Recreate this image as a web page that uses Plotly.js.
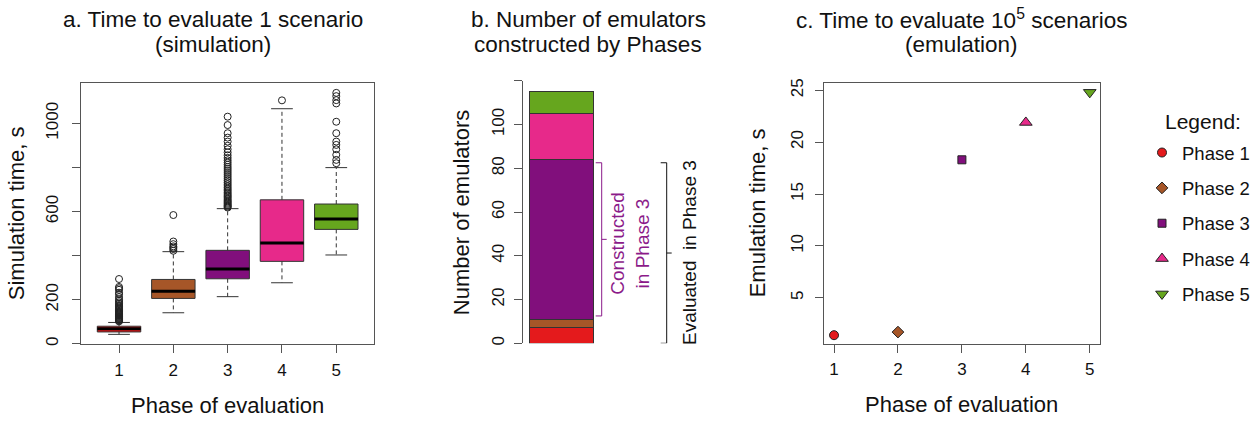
<!DOCTYPE html>
<html>
<head>
<meta charset="utf-8">
<script src="https://cdn.plot.ly/plotly-3.0.1.min.js"></script>
<style>html,body{margin:0;padding:0;background:#fff;}#chart{width:1258px;height:421px;}</style>
</head>
<body>
<div id="chart"></div>
<script>
// ---------- data ----------
const phases = [1, 2, 3, 4, 5];
const phaseNames = ['Phase 1', 'Phase 2', 'Phase 3', 'Phase 4', 'Phase 5'];
const phaseColors = ['#E41A1C', '#A65628', '#810F7C', '#E7298A', '#66A61E'];

// panel a: simulation time boxplot statistics (s)
const simLowerWhisker = [43, 141, 214, 277, 403];
const simQ1 = [54, 206, 295, 374, 519];
const simMedian = [68, 238, 339, 457, 566];
const simQ3 = [80, 292, 424, 653, 634];
const simUpperWhisker = [97, 418, 613, 1066, 799];
const simOutliers1 = [102, 105, 108, 111, 114, 117, 120, 123, 126, 130, 134, 138, 142, 146, 150, 155, 160, 165, 170, 176, 182, 188, 195, 202, 212, 225, 232, 245, 252, 258, 294];
const simOutliers2 = [422, 430, 436, 442, 452, 464, 584];
const simOutliers3 = [618, 622, 626, 630, 635, 640, 645, 650, 656, 662, 668, 674, 680, 687, 694, 701, 708, 716, 724, 732, 740, 748, 757, 766, 775, 784, 793, 802, 812, 822, 832, 843, 855, 868, 882, 898, 917, 935, 955, 992, 1030];
const simOutliers4 = [1104];
const simOutliers5 = [819, 834, 857, 882, 902, 917, 955, 1007, 1090, 1105, 1123, 1138];
const simOutliers = [simOutliers1, simOutliers2, simOutliers3, simOutliers4, simOutliers5];
const simTicksLabeled = [0, 200, 600, 1000];
const simTicksUnlabeled = [400, 800];

// panel b: number of emulators constructed by phase
const emulatorCounts = [7, 4, 73, 21, 10];
const countTicksLabeled = [0, 20, 40, 60, 80, 100];
const countTicksUnlabeled = [120];

// panel c: emulation time for 1e5 scenarios (s)
const emuTime = [1.4, 1.7, 18.3, 21.9, 24.8];
const emuSymbols = ['circle', 'diamond', 'square', 'triangle-up', 'triangle-down'];
const emuSizes = [9, 9, 8, 11, 11];
const emuTicks = [5, 10, 15, 20, 25];

// ---------- helpers ----------
const W = 1258, H = 421;
const px = v => v / W;
const py = v => 1 - v / H;
const FONT = 'Liberation Sans, Arial, Helvetica, sans-serif';
const LINE = '#555';
const boxW = 0.8;

const traces = [];

// panel a boxes
phases.forEach((p, i) => {
  traces.push({
    type: 'box', xaxis: 'x', yaxis: 'y', x: [p],
    q1: [simQ1[i]], median: [simMedian[i]], q3: [simQ3[i]],
    lowerfence: [simQ1[i]], upperfence: [simQ3[i]],
    width: boxW, whiskerwidth: 0, boxpoints: false,
    fillcolor: phaseColors[i], line: {color: '#333', width: 1},
    showlegend: false, hoverinfo: 'skip'
  });
});
const wx = [], wy = [], cx = [], cy = [], mx = [], my = [];
phases.forEach((p, i) => {
  wx.push(p, p, null, p, p, null);
  wy.push(simQ1[i], simLowerWhisker[i], null, simQ3[i], simUpperWhisker[i], null);
  cx.push(p - boxW / 4, p + boxW / 4, null, p - boxW / 4, p + boxW / 4, null);
  cy.push(simLowerWhisker[i], simLowerWhisker[i], null, simUpperWhisker[i], simUpperWhisker[i], null);
  mx.push(p - boxW / 2, p + boxW / 2, null);
  my.push(simMedian[i], simMedian[i], null);
});
traces.push({type: 'scatter', mode: 'lines', xaxis: 'x', yaxis: 'y', x: wx, y: wy,
  line: {color: '#333', width: 1, dash: '4px,3px'}, showlegend: false, hoverinfo: 'skip'});
traces.push({type: 'scatter', mode: 'lines', xaxis: 'x', yaxis: 'y', x: cx, y: cy,
  line: {color: '#333', width: 1}, showlegend: false, hoverinfo: 'skip'});
traces.push({type: 'scatter', mode: 'lines', xaxis: 'x', yaxis: 'y', x: mx, y: my,
  line: {color: '#000', width: 3}, showlegend: false, hoverinfo: 'skip'});
const ox = [], oy = [];
phases.forEach((p, i) => simOutliers[i].forEach(v => { ox.push(p); oy.push(v); }));
traces.push({type: 'scatter', mode: 'markers', xaxis: 'x', yaxis: 'y', x: ox, y: oy,
  marker: {symbol: 'circle-open', size: 7, color: '#222', line: {width: 1}},
  showlegend: false, hoverinfo: 'skip'});

// panel b stacked bar
phases.forEach((p, i) => {
  traces.push({type: 'bar', xaxis: 'x2', yaxis: 'y2', x: [0.5], y: [emulatorCounts[i]],
    width: [0.844], marker: {color: phaseColors[i], line: {color: '#333', width: 1}},
    showlegend: false, hoverinfo: 'skip'});
});

// panel c points + legend
phases.forEach((p, i) => {
  traces.push({type: 'scatter', mode: 'markers', xaxis: 'x3', yaxis: 'y3', x: [p], y: [emuTime[i]],
    name: phaseNames[i], legendgroup: 'g' + p,
    marker: {symbol: emuSymbols[i], size: emuSizes[i], color: phaseColors[i], line: {color: '#222', width: 1}}});
});

const cum = [];
emulatorCounts.reduce((a, v, i) => (cum[i] = a + v), 0);
const conLow = cum[1] + 1.5, conHigh = cum[2] - 1.5;
const evLow = 0, evHigh = cum[2] - 1.5;

const axisCommon = {
  showgrid: false, zeroline: false, showline: true, linecolor: LINE, linewidth: 1,
  ticks: 'outside', ticklen: 8, tickcolor: LINE, tickwidth: 1,
  tickfont: {size: 17, color: '#111', family: FONT}
};
const minorTicks = vals => ({tickvals: vals, ticks: 'outside', ticklen: 8, tickcolor: LINE, tickwidth: 1, showgrid: false});

const ann = [];
function txt(text, x, y, size, extra) {
  ann.push(Object.assign({text, x: px(x), y: py(y), xref: 'paper', yref: 'paper', showarrow: false,
    xanchor: 'center', yanchor: 'middle', font: {size, color: '#111', family: FONT}}, extra || {}));
}
txt('a. Time to evaluate 1 scenario', 213.4, 19, 22.5);
txt('(simulation)', 213.4, 44, 22.5);
txt('b. Number of emulators', 588, 19, 22.5);
txt('constructed by Phases', 588, 44, 22.5);
txt('c. Time to evaluate 10<sup>5</sup> scenarios', 961, 19, 22.5);
txt('(emulation)', 961, 44, 22.5);
txt('Simulation time, s', 16.7, 213.5, 22, {textangle: -90});
txt('Phase of evaluation', 227.5, 405, 22);
txt('Number of emulators', 461.7, 212.5, 22, {textangle: -90});
txt('Emulation time, s', 757, 213.3, 22, {textangle: -90});
txt('Phase of evaluation', 962, 404, 22);
txt('Legend:', 1163, 121.7, 21, {xanchor: 'left'});
ann.push({text: 'Constructed<br>in Phase 3', xref: 'paper', yref: 'y2', x: px(630), y: (conLow + conHigh) / 2 - 2,
  showarrow: false, textangle: -90, font: {size: 19, color: '#8B1A89', family: FONT}});
ann.push({text: 'Evaluated  in Phase 3', xref: 'paper', yref: 'y2', x: px(689), y: (evLow + evHigh) / 2,
  showarrow: false, textangle: -90, font: {size: 19, color: '#111', family: FONT}});

function bracket(xLine, dirEnds, dirMid, lo, hi, color) {
  const xe = xLine + dirEnds * 6, xm = xLine + dirMid * 5, mid = (lo + hi) / 2;
  return [
    {type: 'line', xref: 'paper', yref: 'y2', x0: px(xLine), x1: px(xLine), y0: lo, y1: hi, line: {color, width: 1}},
    {type: 'line', xref: 'paper', yref: 'y2', x0: px(xe), x1: px(xLine), y0: lo, y1: lo, line: {color, width: 1}},
    {type: 'line', xref: 'paper', yref: 'y2', x0: px(xe), x1: px(xLine), y0: hi, y1: hi, line: {color, width: 1}},
    {type: 'line', xref: 'paper', yref: 'y2', x0: px(xLine), x1: px(xm), y0: mid, y1: mid, line: {color, width: 1}}
  ];
}
const shapes = [].concat(
  bracket(601.7, -1, 1, conLow, conHigh, '#8B1A89'),
  bracket(666.7, -1, 1, evLow, evHigh, '#111')
);

const layout = {
  width: W, height: H, autosize: false,
  margin: {l: 0, r: 0, t: 0, b: 0, pad: 0},
  paper_bgcolor: '#fff', plot_bgcolor: 'rgba(0,0,0,0)',
  font: {family: FONT, color: '#111'},
  barmode: 'stack', boxmode: 'overlay',
  xaxis: Object.assign({}, axisCommon, {domain: [px(81), px(374.3)], range: [0.3, 5.7], mirror: true,
    tickvals: phases, anchor: 'y', ticklabelstandoff: 2}),
  yaxis: Object.assign({}, axisCommon, {domain: [py(344.3), py(82.7)], range: [-2, 1184], mirror: true,
    tickvals: simTicksLabeled, minor: minorTicks(simTicksUnlabeled), tickangle: -90, anchor: 'x', ticklabelstandoff: 7}),
  xaxis2: {domain: [px(523), px(600)], range: [0, 1], visible: false, anchor: 'y2', fixedrange: true},
  yaxis2: Object.assign({}, axisCommon, {domain: [py(343.3), py(80.7)], range: [0, 120], anchor: 'x2',
    tickvals: countTicksLabeled, minor: minorTicks(countTicksUnlabeled), tickangle: -90, ticklabelstandoff: 3}),
  xaxis3: Object.assign({}, axisCommon, {domain: [px(823.8), px(1100)], range: [0.84, 5.16], mirror: true,
    tickvals: phases, anchor: 'y3', ticklabelstandoff: 2}),
  yaxis3: Object.assign({}, axisCommon, {domain: [py(344), py(82.7)], range: [0.55, 25.73], mirror: true,
    tickvals: emuTicks, tickangle: -90, anchor: 'x3', ticklabelstandoff: 5}),
  showlegend: true,
  legend: {x: px(1142), y: py(134), xanchor: 'left', yanchor: 'top', bgcolor: 'rgba(0,0,0,0)',
    font: {size: 18.5, color: '#111', family: FONT}, tracegroupgap: 8.3, itemsizing: 'trace'},
  annotations: ann,
  shapes: shapes
};

Plotly.newPlot('chart', traces, layout, {staticPlot: true, displayModeBar: false});
</script>
</body>
</html>
